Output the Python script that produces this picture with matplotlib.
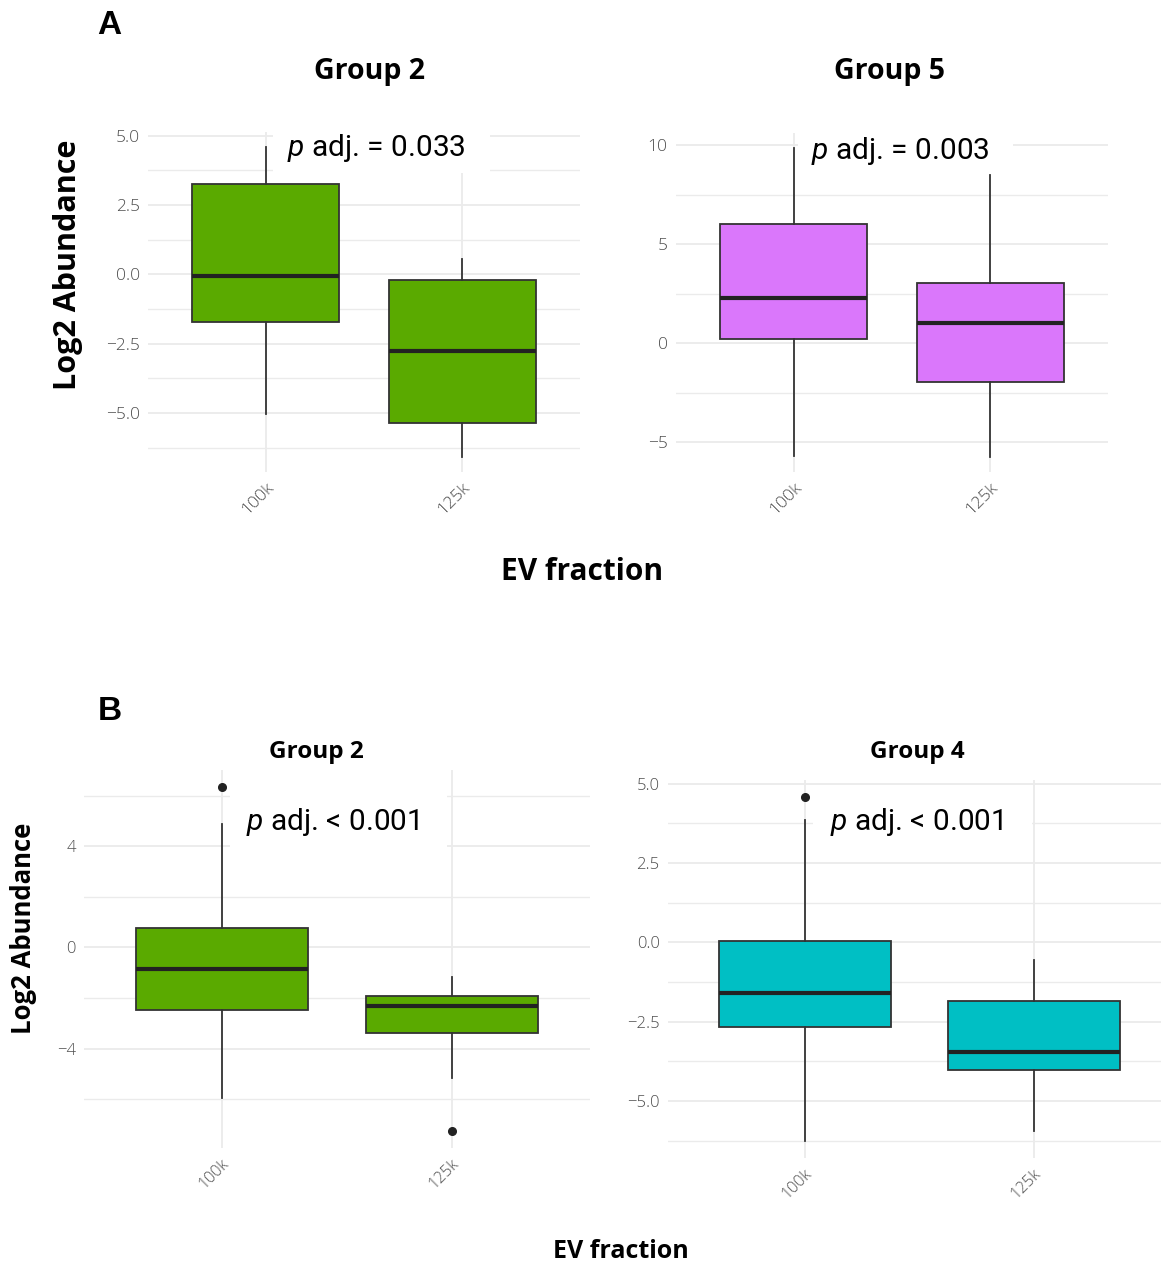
import matplotlib
matplotlib.use("Agg")
import matplotlib.pyplot as plt
from matplotlib.patches import Rectangle
from matplotlib.transforms import ScaledTranslation

plt.rcParams['mathtext.fontset'] = 'custom'
plt.rcParams['mathtext.it'] = 'Roboto:italic'
plt.rcParams['mathtext.rm'] = 'Roboto'
plt.rcParams['axes.unicode_minus'] = True

# ---------------- data ----------------
categories = ['100k', '125k']

a2_q1 = [-1.73, -5.37]
a2_med = [-0.07, -2.75]
a2_q3 = [3.26, -0.22]
a2_lo = [-5.05, -6.57]
a2_hi = [4.57, 0.55]
a2_fliers = [[], []]

a5_q1 = [0.23, -1.95]
a5_med = [2.28, 1.02]
a5_q3 = [6.02, 3.05]
a5_lo = [-5.67, -5.72]
a5_hi = [9.83, 8.49]
a5_fliers = [[], []]

b2_q1 = [-2.47, -3.38]
b2_med = [-0.84, -2.33]
b2_q3 = [0.79, -1.91]
b2_lo = [-5.97, -5.18]
b2_hi = [4.88, -1.18]
b2_fliers = [[6.34], [-7.25]]

b4_q1 = [-2.68, -4.02]
b4_med = [-1.61, -3.45]
b4_q3 = [0.05, -1.86]
b4_lo = [-6.26, -5.95]
b4_hi = [3.85, -0.57]
b4_fliers = [[4.58], []]

pvals = ['$p$ adj. = 0.033', '$p$ adj. = 0.003', '$p$ adj. < 0.001', '$p$ adj. < 0.001']
titles = ['Group 2', 'Group 5', 'Group 2', 'Group 4']

major_ticks = [[-5, -2.5, 0, 2.5, 5], [-5, 0, 5, 10], [-4, 0, 4], [-5, -2.5, 0, 2.5, 5]]
minor_ticks = [[-6.25, -3.75, -1.25, 1.25, 3.75], [-2.5, 2.5, 7.5],
               [-6, -2, 2, 6], [-6.25, -3.75, -1.25, 1.25, 3.75]]
tick_fmt = ['{:.1f}', '{:.0f}', '{:.0f}', '{:.1f}']

GREEN = '#5AAA00'
PURPLE = '#DA77FB'
CYAN = '#00BFC4'
EDGE = '#333333'
GRID = '#EBEBEB'
TICKC = '#4F4F4F'
TFONT = 'Open Sans'

# ---------------- figure ----------------
W, H = 1161, 1263
fig = plt.figure(figsize=(W / 100, H / 100), dpi=100)

def px_axes(l, t, r, b):
    return fig.add_axes([l / W, 1 - b / H, (r - l) / W, (b - t) / H])

axes_px = [(148, 132, 580, 472), (676, 133, 1108, 472),
           (84, 770, 590, 1148), (668, 780, 1171, 1158)]

panels = [
    (a2_q1, a2_med, a2_q3, a2_lo, a2_hi, a2_fliers, GREEN),
    (a5_q1, a5_med, a5_q3, a5_lo, a5_hi, a5_fliers, PURPLE),
    (b2_q1, b2_med, b2_q3, b2_lo, b2_hi, b2_fliers, GREEN),
    (b4_q1, b4_med, b4_q3, b4_lo, b4_hi, b4_fliers, CYAN),
]

# white boxes behind p-value labels (axes fraction)
label_rect = [(0.289, 0.879, 0.503, 0.2), (0.282, 0.847, 0.498, 0.2),
              (0.289, 0.73, 0.428, 0.3), (0.288, 0.80, 0.436, 0.174)]
label_pos = [(0.529, 0.953), (0.519, 0.947), (0.492, 0.862), (0.495, 0.889)]

for i, (q1, med, q3, lo, hi, fl, col) in enumerate(panels):
    ax = px_axes(*axes_px[i])
    stats = []
    for j, c in enumerate(categories):
        stats.append(dict(label=c, q1=q1[j], med=med[j], q3=q3[j],
                          whislo=lo[j], whishi=hi[j], fliers=fl[j]))
    bp = ax.bxp(stats, positions=[1, 2], widths=0.75, patch_artist=True,
                showcaps=False,
                boxprops=dict(facecolor=col, edgecolor=EDGE, linewidth=1.3),
                medianprops=dict(color='#222222', linewidth=3.0, solid_capstyle='butt'),
                whiskerprops=dict(color=EDGE, linewidth=1.3),
                flierprops=dict(marker='o', markerfacecolor='#222222',
                                markeredgecolor='#222222', markersize=5.5))
    for art in bp['boxes'] + bp['whiskers'] + bp['medians'] + bp['fliers']:
        art.set_zorder(3)

    allv = lo + hi + [v for f in fl for v in f]
    mn, mx = min(allv), max(allv)
    rng = mx - mn
    ax.set_ylim(mn - 0.05 * rng, mx + 0.05 * rng)
    ax.set_xlim(0.4, 2.6)

    ax.set_yticks(major_ticks[i])
    ax.set_yticklabels([tick_fmt[i].format(v).replace('-', '\u2212') for v in major_ticks[i]])
    ax.set_yticks(minor_ticks[i], minor=True)
    ax.set_xticks([1, 2])
    ax.set_xticklabels(categories)

    ax.set_axisbelow(True)
    ax.grid(True, which='major', color=GRID, linewidth=1.3)
    ax.grid(True, which='minor', axis='y', color=GRID, linewidth=1.0)
    for s in ax.spines.values():
        s.set_visible(False)
    ax.tick_params(which='both', length=0)
    fs_y = 12.5 if i < 2 else 12
    fs_x = 12.5 if i < 2 else 11.5
    ax.tick_params(axis='y', labelsize=fs_y, labelcolor=TICKC, pad=6)
    ax.tick_params(axis='x', labelsize=fs_x, labelcolor=TICKC, pad=4)
    for t in ax.get_yticklabels():
        t.set_fontfamily(TFONT)
        t.set_fontweight('light')
    off = ScaledTranslation(-8 / 100, -2 / 100, fig.dpi_scale_trans)
    for t in ax.get_xticklabels():
        t.set_fontfamily(TFONT)
        t.set_fontweight('light')
        t.set_rotation(45)
        t.set_ha('center')
        t.set_transform(t.get_transform() + off)

    rx, ry, rw, rh = label_rect[i]
    ax.add_patch(Rectangle((rx, ry), rw, rh, transform=ax.transAxes,
                           facecolor='white', edgecolor='none', zorder=1))
    ax.text(label_pos[i][0], label_pos[i][1], pvals[i], transform=ax.transAxes,
            ha='center', va='center', fontsize=21.5, fontfamily='Roboto',
            color='black', zorder=5)

# titles
title_pos = [(369, 71, 20.5), (890, 71, 20.5), (316, 752, 17.5), (917, 752, 17.5)]
for t, (x, y, fs) in zip(titles, title_pos):
    fig.text(x / W, 1 - y / H, t, ha='center', va='center', fontsize=fs,
             fontweight='bold', fontfamily=TFONT)

# panel letters
fig.text(109 / W, 1 - 26 / H, 'A', ha='center', va='center', fontsize=24,
         fontweight='bold', fontfamily='Liberation Sans')
fig.text(110 / W, 1 - 711 / H, 'B', ha='center', va='center', fontsize=24,
         fontweight='bold', fontfamily='Liberation Sans')

# axis titles
fig.text(582 / W, 1 - 572 / H, 'EV fraction', ha='center', va='center',
         fontsize=21.5, fontweight='bold', fontfamily=TFONT)
fig.text(621 / W, 1 - 1252 / H, 'EV fraction', ha='center', va='center',
         fontsize=18, fontweight='bold', fontfamily=TFONT)
fig.text(68 / W, 1 - 265 / H, 'Log2 Abundance', ha='center', va='center',
         rotation=90, fontsize=22, fontweight='bold', fontfamily=TFONT)
fig.text(24 / W, 1 - 928 / H, 'Log2 Abundance', ha='center', va='center',
         rotation=90, fontsize=18.5, fontweight='bold', fontfamily=TFONT)

fig.savefig('out.png', dpi=100, facecolor='white')
